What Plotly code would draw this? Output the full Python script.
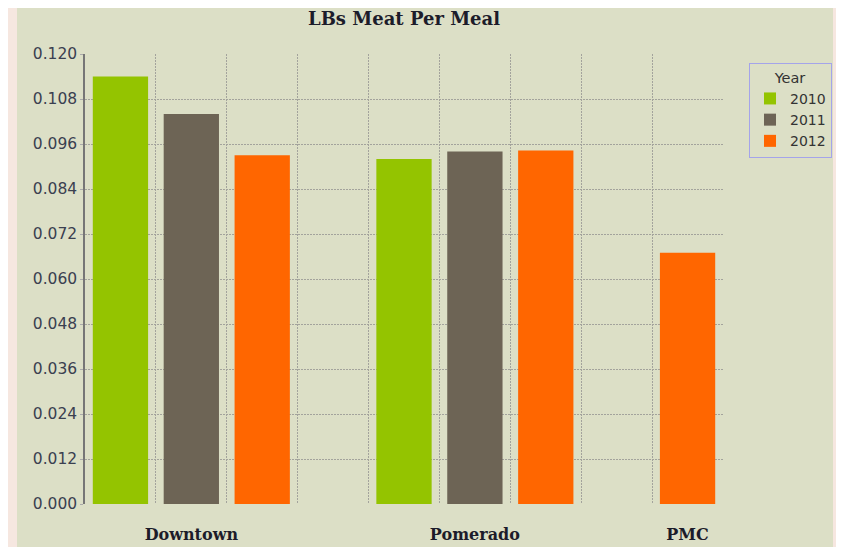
import plotly.graph_objects as go

# ---- data ----
categories = ["Downtown", "Pomerado", "PMC"]
years = ["2010", "2011", "2012"]
vals_2010 = [0.114, 0.092, None]
vals_2011 = [0.104, 0.094, None]
vals_2012 = [0.093, 0.0943, 0.067]
y_ticks = [0.000, 0.012, 0.024, 0.036, 0.048, 0.060, 0.072, 0.084, 0.096, 0.108, 0.120]

colors = {"2010": "#94c400", "2011": "#6d6455", "2012": "#ff6600"}
series = {"2010": vals_2010, "2011": vals_2011, "2012": vals_2012}

# slot layout: each category takes one slot per present bar, one empty slot between categories
slot = 0
positions = {y: [] for y in years}
values = {y: [] for y in years}
cat_centers = []
for ci, cat in enumerate(categories):
    cat_slots = []
    for y in years:
        v = series[y][ci]
        if v is not None:
            positions[y].append(slot)
            values[y].append(v)
            cat_slots.append(slot)
            slot += 1
    cat_centers.append(sum(cat_slots) / len(cat_slots))
    slot += 1
last_slot = slot - 2

fig = go.Figure()
for y in years:
    fig.add_trace(go.Bar(
        x=positions[y], y=values[y], name=y,
        marker=dict(color=colors[y], line=dict(width=0)),
        width=0.78,
    ))

panel = "#dcdfc6"
grid = "#a3a39c"
W, H = 836, 539
L, R, T, B = 77, 121, 46, 43
PW, PH = W - L - R, H - T - B

fig.update_layout(
    width=W, height=H,
    margin=dict(l=L, r=R, t=T, b=B, autoexpand=False),
    paper_bgcolor="#f6e7e0",
    plot_bgcolor=panel,
    title=dict(text="<b>LBs Meat Per Meal</b>", x=0.5, xref="paper", xanchor="center",
               y=1 - 11 / H, yanchor="middle",
               font=dict(family="DejaVu Serif", size=18, color="#1c1c2a")),
    showlegend=True,
    legend=dict(
        title=dict(text="Year", side="top center",
                   font=dict(family="DejaVu Sans", size=14.5, color="#333333")),
        x=(741 - L) / PW, y=1 - 9 / PH, xanchor="left", yanchor="top",
        bgcolor="rgba(0,0,0,0)", bordercolor="#a4a4ea", borderwidth=1,
        font=dict(family="DejaVu Sans", size=14, color="#333333"),
        itemwidth=30,
    ),
    xaxis=dict(
        range=[-0.5, last_slot + 0.5], automargin=False,
        tickmode="array", tickvals=cat_centers,
        ticktext=["<b>" + c + "</b>" for c in categories],
        tickfont=dict(family="DejaVu Serif", size=16, color="#1c1c2a"),
        ticks="outside", ticklen=16, tickcolor="rgba(0,0,0,0)",
        showgrid=False, showline=False, zeroline=False,
        minor=dict(tickmode="array",
                   tickvals=[i + 0.5 for i in range(last_slot + 1)],
                   showgrid=True, gridcolor=grid, griddash="2px,1px", gridwidth=1.2,
                   ticks=""),
    ),
    yaxis=dict(
        range=[0, 0.120], automargin=False,
        tickmode="array", tickvals=y_ticks, tickformat=".3f",
        tickfont=dict(family="DejaVu Sans", size=15.5, color="#3a4050"),
        ticks="outside", ticklen=3, tickcolor="#aaaaaa",
        showgrid=True, gridcolor=grid, griddash="2px,1px", gridwidth=1.2,
        showline=True, linecolor="#767676", linewidth=1.5,
        zeroline=False,
    ),
    shapes=[dict(type="rect", xref="paper", yref="paper",
                 x0=(9 - L) / PW, x1=(825 - L) / PW,
                 y0=-B / PH - 0.01, y1=1 + T / PH + 0.01,
                 fillcolor=panel, line=dict(width=0), layer="below")],
)

fig.write_html("out.html")
